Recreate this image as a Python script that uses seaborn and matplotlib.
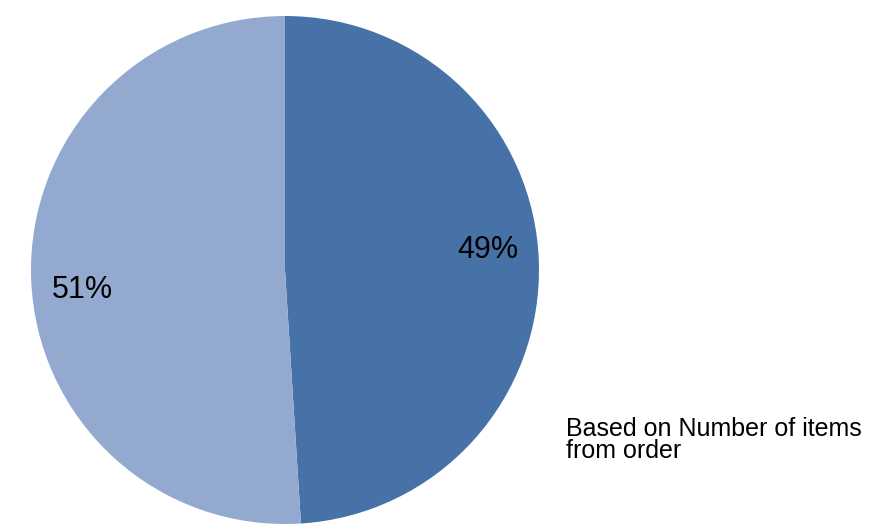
import matplotlib
matplotlib.use("Agg")
import matplotlib.pyplot as plt
import seaborn as sns

# data
slice_labels = ["Items group A", "Items group B"]
slice_values = [49, 51]
slice_colors = ["#4672a7", "#93a9d0"]
caption = "Based on Number of items\nfrom order"

sns.set_style("white")
plt.rcParams["font.family"] = ["Liberation Sans", "DejaVu Sans"]

fig = plt.figure(figsize=(8.85, 5.3), dpi=100)
ax = fig.add_axes([31 / 885, 6 / 530, 508 / 885, 508 / 530])

wedges, texts, autotexts = ax.pie(
    slice_values,
    colors=slice_colors,
    startangle=90,
    counterclock=False,
    autopct="%d%%",
    pctdistance=0.8,
    wedgeprops={"linewidth": 0},
    textprops={"fontsize": 22, "color": "black"},
)
# the original labels are nudged off the slice centres a bit
nudges = [0.055, -0.055]
for t, dy in zip(autotexts, nudges):
    x, y = t.get_position()
    t.set_position((x, y + dy))

ax.set_xlim(-1, 1)
ax.set_ylim(-1, 1)
ax.set_aspect("equal")
ax.axis("off")

fig.text(566 / 885, 1 - 417 / 530, caption, fontsize=18, va="top", ha="left",
         linespacing=0.88, color="black")

fig.savefig("out.png", dpi=100)
